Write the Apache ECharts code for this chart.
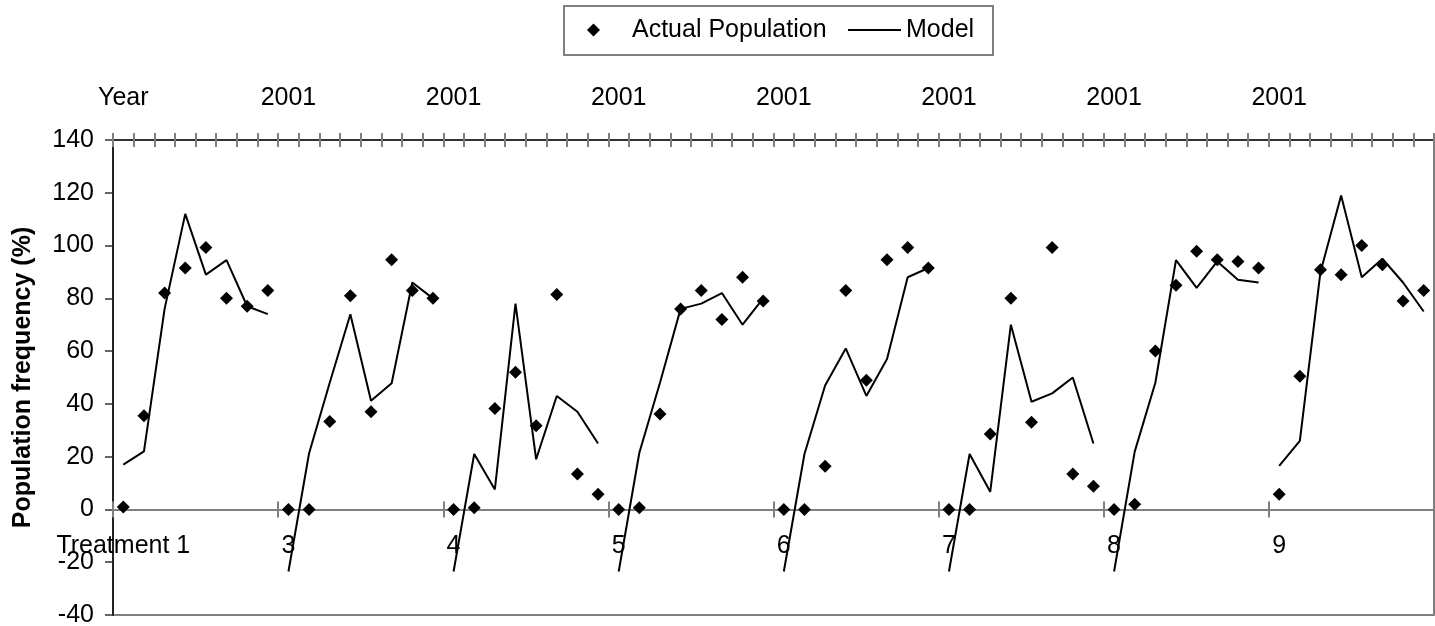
<!DOCTYPE html>
<html>
<head>
<meta charset="utf-8">
<script src="https://cdn.jsdelivr.net/npm/echarts@6/dist/echarts.min.js"></script>
<style>
html,body{margin:0;padding:0;background:#fff;}
#chart{width:1435px;height:626px;}
</style>
</head>
<body>
<div id="chart"></div>
<script>
// ---- data ----
const groupLabels = ['Treatment 1', '3', '4', '5', '6', '7', '8', '9'];
const yearLabels = ['Year', '2001', '2001', '2001', '2001', '2001', '2001', '2001'];
const pointsPerGroup = 8;
const actualPopulation = [
  0.9, 35.5, 82, 91.5, 99.3, 80, 77, 83,
  0, 0, 33.3, 81, 37, 94.6, 83, 80,
  0, 0.6, 38.3, 52, 31.7, 81.5, 13.4, 5.8,
  0, 0.6, 36.2, 76, 83, 72, 88, 79,
  0, 0, 16.4, 83, 49, 94.6, 99.3, 91.5,
  0, 0, 28.6, 80, 33, 99.3, 13.4, 8.8,
  0, 2, 60, 85, 97.8, 94.6, 94, 91.5,
  5.8, 50.5, 90.8, 88.9, 100, 92.7, 79, 83
];
const modelValues = [
  17, 22, 76, 112, 89, 94.5, 77, 74,
  -23.5, 21.3, 48, 74, 41.2, 47.8, 86, 80,
  -23.5, 21, 7.6, 78, 19, 43, 37, 25,
  -23.5, 21.5, 48, 76, 78, 82, 70, 80,
  -23.5, 21, 47, 61, 43, 57, 88, 91.5,
  -23.5, 21, 6.7, 70, 40.8, 44, 50, 25,
  -23.5, 21.9, 48, 94.5, 84, 94, 87, 86,
  16.5, 26, 90, 119, 88, 95, 86, 75
];
const yMin = -40, yMax = 140, yInterval = 20;

// ---- chart ----
const FONT = '"Liberation Sans", Arial, sans-serif';
const FS = 25;
const GRID = { left: 113, top: 140, width: 1321, height: 475 };
// the category axis sits on the value 0 line
const zeroOffset = -GRID.height * (0 - yMin) / (yMax - yMin);
const categories = actualPopulation.map((_, i) => String(i));
const isGroupStart = (i) => i % pointsPerGroup === 0;

const modelSeries = groupLabels.map((_, g) => ({
  name: 'Model',
  type: 'line',
  xAxisIndex: 0,
  yAxisIndex: 0,
  symbol: 'none',
  silent: true,
  z: 3,
  lineStyle: { color: '#000', width: 2 },
  itemStyle: { color: '#000' },
  data: modelValues.map((v, i) => Math.floor(i / pointsPerGroup) === g ? v : null),
  connectNulls: false
}));

const chart = echarts.init(document.getElementById('chart'), null, { renderer: 'canvas' });
chart.setOption({
  animation: false,
  backgroundColor: '#fff',
  textStyle: { fontFamily: FONT },
  grid: {
    left: GRID.left, top: GRID.top, width: GRID.width, height: GRID.height,
    show: true, borderColor: '#808080', borderWidth: 2, backgroundColor: 'transparent',
    containLabel: false, outerBoundsMode: 'none'
  },
  graphic: [{
    type: 'rect', left: 563, top: 5, z: 0,
    shape: { width: 429, height: 49 },
    style: { fill: '#fff', stroke: '#808080', lineWidth: 2 }
  }],
  legend: [{
    data: [{ name: 'Actual Population', icon: 'diamond' }],
    left: 587, top: 13.5, itemWidth: 13, itemHeight: 13, padding: 0,
    selectedMode: false,
    itemStyle: { color: '#000', opacity: 1 },
    textStyle: { fontFamily: FONT, fontSize: FS, color: '#000', padding: [0, 0, 8, 27], lineHeight: 25 }
  }, {
    data: [{ name: 'Model', icon: 'rect' }],
    left: 848, top: 13.5, itemWidth: 53, itemHeight: 2, padding: 0,
    selectedMode: false,
    itemStyle: { color: '#000', opacity: 1 },
    textStyle: { fontFamily: FONT, fontSize: FS, color: '#000', padding: [0, 0, 8, 0], lineHeight: 25 }
  }],
  xAxis: [{
    type: 'category', position: 'bottom', offset: zeroOffset, data: categories, boundaryGap: true,
    axisLine: { onZero: false, lineStyle: { color: '#808080', width: 2 } },
    axisTick: { show: true, inside: false, length: 8, interval: (i) => isGroupStart(i), lineStyle: { color: '#808080', width: 2 } },
    axisLabel: {
      interval: (i) => isGroupStart(i), margin: 24, color: '#000', fontFamily: FONT, fontSize: FS,
      formatter: (v, i) => groupLabels[Math.floor(i / pointsPerGroup)]
    },
    splitLine: { show: false }
  }, {
    type: 'category', position: 'bottom', offset: zeroOffset, data: categories, boundaryGap: true,
    axisLine: { show: false, onZero: false },
    axisTick: { show: true, inside: true, length: 8, interval: (i) => isGroupStart(i), lineStyle: { color: '#808080', width: 2 } },
    axisLabel: { show: false },
    splitLine: { show: false }
  }, {
    type: 'category', position: 'top', data: categories, boundaryGap: true,
    axisLine: { onZero: false, lineStyle: { color: '#333', width: 2 } },
    axisTick: { show: true, inside: false, length: 7, interval: 0, lineStyle: { color: '#808080', width: 2 } },
    axisLabel: {
      interval: (i) => isGroupStart(i), margin: 29, color: '#000', fontFamily: FONT, fontSize: FS,
      formatter: (v, i) => yearLabels[Math.floor(i / pointsPerGroup)]
    },
    splitLine: { show: false }
  }, {
    type: 'category', position: 'top', data: categories, boundaryGap: true,
    axisLine: { show: false, onZero: false },
    axisTick: { show: true, inside: true, length: 7, interval: 0, lineStyle: { color: '#808080', width: 2 } },
    axisLabel: { show: false },
    splitLine: { show: false }
  }],
  yAxis: [{
    type: 'value', min: yMin, max: yMax, interval: yInterval,
    name: 'Population frequency (%)', nameLocation: 'middle', nameGap: 77,
    nameTextStyle: { fontFamily: FONT, fontSize: 25, fontWeight: 'bold', color: '#000' },
    axisLine: { show: true, onZero: false, lineStyle: { color: '#222', width: 2 } },
    axisTick: { show: true, inside: false, length: 8, lineStyle: { color: '#333', width: 1.5 } },
    axisLabel: { margin: 19, color: '#000', fontFamily: FONT, fontSize: FS },
    splitLine: { show: false }
  }],
  series: [{
    name: 'Actual Population',
    type: 'scatter',
    xAxisIndex: 0, yAxisIndex: 0,
    symbol: 'diamond', symbolSize: 13,
    silent: true, z: 4,
    itemStyle: { color: '#000', opacity: 1 },
    data: actualPopulation
  }].concat(modelSeries)
});
</script>
</body>
</html>
